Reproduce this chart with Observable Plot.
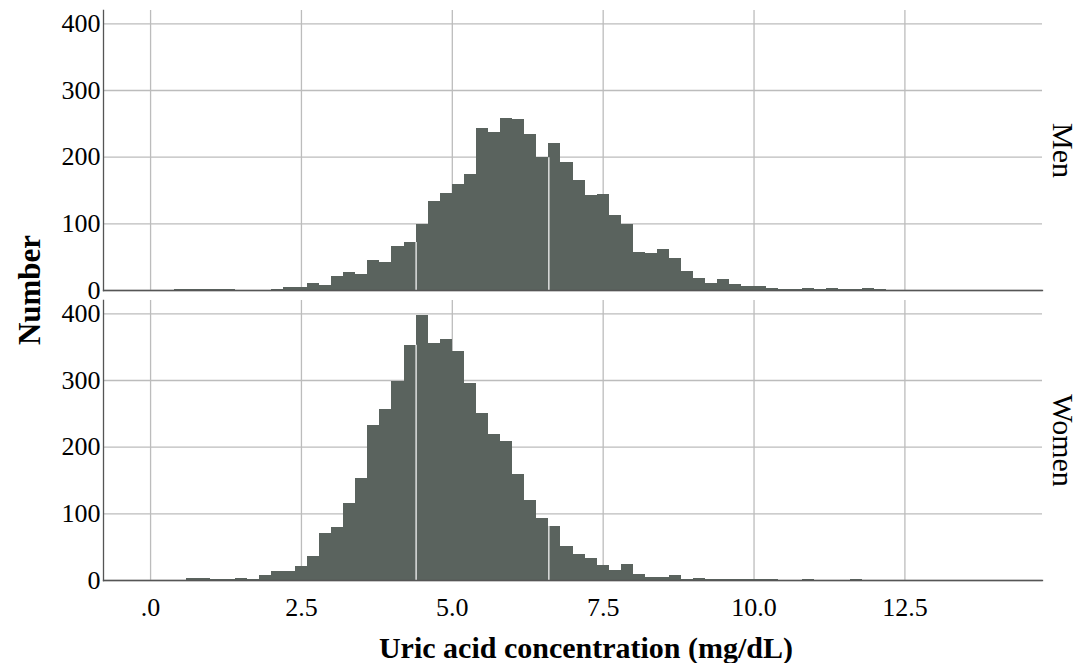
<!DOCTYPE html>
<html>
<head>
<meta charset="utf-8">
<script src="https://cdn.jsdelivr.net/npm/d3@7"></script>
<script src="https://cdn.jsdelivr.net/npm/@observablehq/plot@0.6"></script>
<style>
  html, body { margin: 0; padding: 0; background: #fff; }
  #chart { position: relative; width: 1088px; height: 663px; }
</style>
</head>
<body>
<div id="chart"></div>
<script>
// ---- data (bin width 0.2 mg/dL, first bin starts at 0.0) ----
const binWidth = 0.2;
const panels = ["Men", "Women"];
const menCounts = [
  0, 0, 1, 1, 1, 1, 1, 0, 0, 0,
  2, 4, 5, 11, 8, 21, 27, 24, 45, 42,
  66, 72, 99, 134, 146, 159, 174, 243, 237, 258,
  256, 234, 199, 221, 192, 165, 143, 144, 113, 99,
  57, 56, 62, 48, 29, 18, 11, 17, 9, 6,
  6, 3, 1, 1, 3, 2, 3, 1, 1, 3,
  1, 0, 0, 0, 0, 0, 0, 0, 0, 0,
  0, 0, 0, 0
];
const womenCounts = [
  0, 0, 0, 3, 3, 1, 1, 3, 1, 7,
  13, 13, 21, 36, 70, 79, 115, 153, 233, 257,
  299, 353, 397, 356, 361, 343, 295, 250, 219, 208,
  159, 120, 93, 81, 51, 39, 33, 22, 15, 24,
  9, 4, 4, 7, 2, 3, 2, 1, 1, 2,
  2, 1, 0, 0, 1, 0, 0, 0, 1, 0,
  0, 0, 0, 0, 0, 0, 0, 0, 0, 0,
  0, 0, 0, 0
];
const xTicks = [0, 2.5, 5, 7.5, 10, 12.5];
const yTicks = [0, 100, 200, 300, 400];
const seamPositions = [4.4, 6.6]; // thin white seams visible in the original bars
const xTitle = "Uric acid concentration (mg/dL)";
const yTitle = "Number";

// ---- build tables ----
const countsBy = {Men: menCounts, Women: womenCounts};
const rows = [];
for (const p of panels) {
  countsBy[p].forEach((n, k) => {
    if (n > 0) rows.push({panel: p, x1: +(k * binWidth).toFixed(1), x2: +((k + 1) * binWidth).toFixed(1), count: n});
  });
}
const seamRows = [];
for (const p of panels) {
  for (const s of seamPositions) {
    const k = Math.round(s / binWidth);
    const c = countsBy[p];
    seamRows.push({panel: p, x: s, h: Math.min(c[k - 1], c[k])});
  }
}

const barColor = "#5a635e";
const gridColor = "#bcbcbc";

const chart = Plot.plot({
  width: 1088,
  height: 663,
  marginLeft: 103,
  marginRight: 46,
  marginTop: 9.5,
  marginBottom: 83,
  style: {fontFamily: "'Liberation Serif', 'Times New Roman', serif", background: "#fff", color: "#000"},
  x: {domain: [-0.78, 14.78]},
  y: {domain: [0, 420]},
  fy: {domain: panels, padding: 0.033},
  marks: [
    Plot.gridX(xTicks, {stroke: gridColor, strokeOpacity: 1, strokeWidth: 1.3}),
    Plot.gridY(yTicks, {stroke: gridColor, strokeOpacity: 1, strokeWidth: 1.3}),
    Plot.rectY(rows, {x1: "x1", x2: "x2", y: "count", fy: "panel", fill: barColor, inset: 0, shapeRendering: "crispEdges"}),
    Plot.ruleX(seamRows, {x: "x", y1: 0, y2: "h", fy: "panel", stroke: "#fff", strokeWidth: 1.2}),
    Plot.frame({anchor: "left", stroke: "#555", strokeWidth: 1.3}),
    Plot.frame({anchor: "bottom", stroke: "#555", strokeWidth: 1.3}),
    Plot.axisY(yTicks, {tickSize: 0, tickPadding: 3, fontSize: 26, label: null}),
    Plot.axisX(xTicks, {tickSize: 0, tickPadding: 17, fontSize: 26, label: null,
      tickFormat: d => d === 0 ? ".0" : d.toFixed(1)}),
    Plot.axisFy({anchor: "right", tickRotate: 90, fontSize: 30, tickSize: 0, tickPadding: 32, label: null})
  ]
});

const svg = d3.select(chart);
svg.append("text")
  .attr("x", 586).attr("y", 658)
  .attr("text-anchor", "middle")
  .attr("font-size", 30).attr("font-weight", "bold")
  .attr("fill", "#000")
  .text(xTitle);
svg.append("text")
  .attr("transform", "translate(40,290) rotate(-90)")
  .attr("text-anchor", "middle")
  .attr("font-size", 31).attr("font-weight", "bold")
  .attr("fill", "#000")
  .text(yTitle);

document.getElementById("chart").appendChild(chart);
</script>
</body>
</html>
